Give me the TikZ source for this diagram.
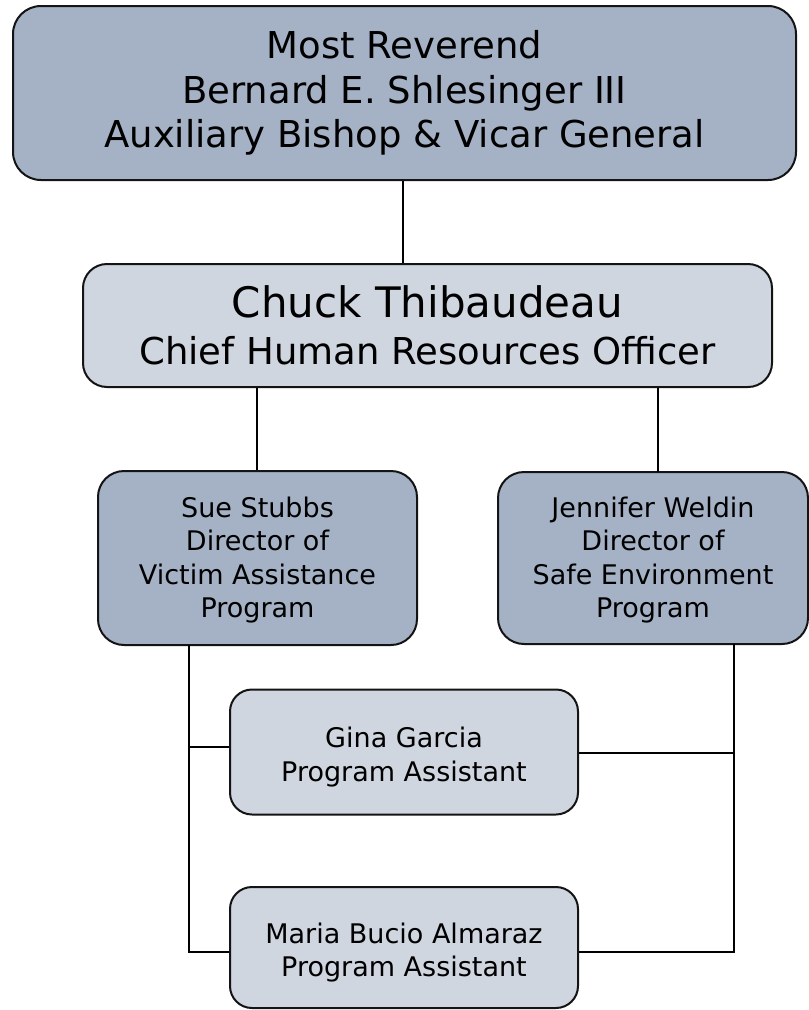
\documentclass[tikz,border=0pt]{standalone}
\usepackage{fontspec}
\setmainfont{DejaVu Sans}
\definecolor{darkbox}{RGB}{165,178,198}
\definecolor{lightbox}{RGB}{207,214,224}
\definecolor{edge}{RGB}{20,20,20}
\begin{document}
\begin{tikzpicture}[x=1pt,y=-1pt,
  box/.style={draw=edge,line width=2pt,align=center,inner sep=0pt,text=black},
  darkb/.style={box,fill=darkbox},
  lightb/.style={box,fill=lightbox},
  small/.style={font=\fontsize{27}{33.5}\selectfont},
  label/.style={small,align=center,inner sep=0pt,text=black},
  conn/.style={draw=black,line width=1.8pt}]
\useasboundingbox (0,0) rectangle (809,1010);
\coordinate (tl) at (403,180);
\coordinate (st) at (257,471);
\coordinate (jt) at (658,472);
\coordinate (sl) at (189,645);
\coordinate (slg) at (189,747);
\coordinate (slm) at (189,952);
\coordinate (jl) at (734,644);
\coordinate (jlg) at (734,753);
\coordinate (jlm) at (734,952);
\node[darkb,rounded corners=28pt,minimum width=783pt,minimum height=174pt,
  font=\fontsize{37}{44.5}\selectfont] (top) at (404.5,93)
  {Most Reverend\\Bernard E. Shlesinger III\\Auxiliary Bishop \& Vicar General};
\node[lightb,rounded corners=24pt,minimum width=689pt,minimum height=123pt,
  font=\fontsize{37}{47}\selectfont] (chuck) at (427.5,325.5)
  {{\fontsize{42}{47}\selectfont Chuck Thibaudeau}\\Chief Human Resources Officer};
\node[darkb,rounded corners=26pt,minimum width=319pt,minimum height=174pt] (sue) at (257.5,558) {};
\node[label] (suetext) at ([yshift=-2pt]sue.center) {Sue Stubbs\\Director of\\Victim Assistance\\Program};
\node[darkb,rounded corners=26pt,minimum width=310pt,minimum height=172pt] (jen) at (653,558) {};
\node[label] (jentext) at ([yshift=-2pt]jen.center) {Jennifer Weldin\\Director of\\Safe Environment\\Program};
\node[lightb,rounded corners=22pt,minimum width=348pt,minimum height=125pt] (gina) at (404,752) {};
\node[label] (ginatext) at ([yshift=-5pt]gina.center) {Gina Garcia\\Program Assistant};
\node[lightb,rounded corners=22pt,minimum width=348pt,minimum height=121pt] (maria) at (404,947.5) {};
\node[label] (mariatext) at ([yshift=-5pt]maria.center) {Maria Bucio Almaraz\\Program Assistant};
\draw[conn] (top.south -| tl) -- (chuck.north -| tl);
\draw[conn] (sue.north -| st) -- (chuck.south -| st);
\draw[conn] (jt) -- (jt |- chuck.south);
\draw[conn] (sl) -- (slm) -- (maria.west |- slm);
\draw[conn] (slg) -- (gina.west |- slg);
\draw[conn] (jl) -- (jlm) -- (maria.east |- jlm);
\draw[conn] (jlg) -- (gina.east |- jlg);
\end{tikzpicture}
\end{document}
